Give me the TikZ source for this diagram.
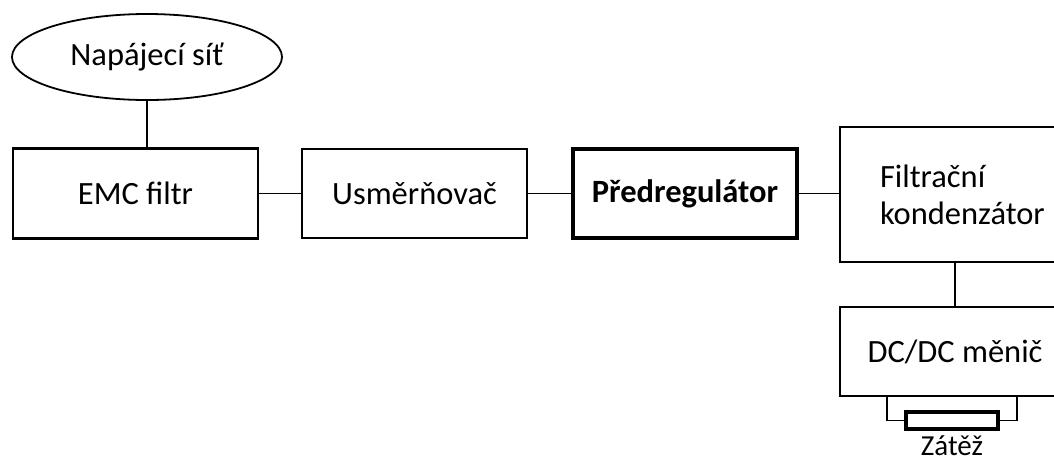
\documentclass[tikz,border=0pt]{standalone}
\usepackage{fontspec}
\setmainfont{Carlito}
\usetikzlibrary{shapes.geometric}
\begin{document}
\begin{tikzpicture}[x=1pt,y=-1pt,
  every node/.style={font=\fontsize{32.5}{37}\selectfont},
  blk/.style={draw, line width=2.4pt, rectangle, inner sep=0pt},
  wire/.style={line width=1.8pt}]
\useasboundingbox (0,0) rectangle (1054,459);
\clip (0,0) rectangle (1054,459);
\node[draw, ellipse, line width=1.8pt, minimum width=270pt, minimum height=86pt, inner sep=0pt] (sit) at (147,57) {Napájecí síť};
\node[blk, minimum width=245pt, minimum height=90pt] (emc) at (135.5,193.5) {EMC filtr};
\node[blk, minimum width=225pt, minimum height=89pt] (usm) at (414.5,193.5) {Usměrňovač};
\node[blk, line width=3.6pt, minimum width=224pt, minimum height=89pt] (pred) at (685,193.5) {\bfseries Předregulátor};
\node[blk, minimum width=230pt, minimum height=135pt, text width=150pt, inner xsep=40pt, align=left] (filt) at (955,194.5) {Filtrační\\kondenzátor};
\node[blk, minimum width=230pt, minimum height=89pt] (dc) at (955,351.5) {DC/DC měnič};
\node[draw, line width=3.4pt, minimum width=92pt, minimum height=17pt, inner sep=0pt] (r) at (952,420.5) {};
\node[anchor=base, inner sep=0pt, font=\fontsize{29}{35}\selectfont] (z) at (952,455.5) {Zátěž};
\coordinate (wl) at (887,396);
\coordinate (wr) at (1017,396);
\draw[line width=2.6pt] (sit.south) -- (sit.south |- emc.north);
\draw[wire] (emc.east) -- (usm.west);
\draw[wire] (usm.east) -- (pred.west);
\draw[wire] (pred.east) -- (pred.east -| filt.west);
\draw[wire] (filt.south) -- (dc.north);
\draw[wire] (r.west) -| (wl);
\draw[wire] (r.east) -| (wr);
\end{tikzpicture}
\end{document}
